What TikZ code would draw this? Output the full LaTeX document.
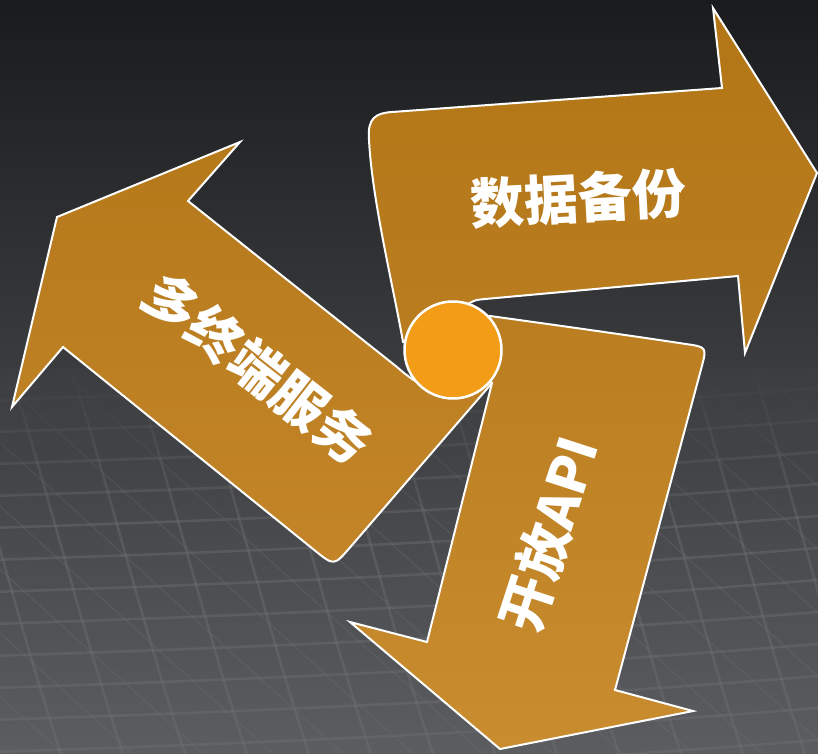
\documentclass[tikz,border=0pt]{standalone}
\usepackage{fontspec}
\usetikzlibrary{fadings}
\newfontfamily\cjk{Noto Sans CJK SC}
\definecolor{bgtop}{HTML}{1A1B1D}
\definecolor{bgmid}{HTML}{3E3F42}
\definecolor{bgbot}{HTML}{5C5D60}
\definecolor{bgA}{HTML}{3D3E41}
\definecolor{bgB}{HTML}{494A4D}
\definecolor{meshc}{HTML}{707174}
\definecolor{hubc}{HTML}{F29C17}
\definecolor{goldA}{HTML}{B27616}
\definecolor{goldB}{HTML}{BA7E21}
\definecolor{goldC}{HTML}{C38528}
\definecolor{goldD}{HTML}{C98C2E}
\tikzfading[name=meshfade, top color=transparent!0, bottom color=transparent!100]
\tikzset{
  arrowshape/.style={draw=white, line width=2pt, line join=miter},
  label/.style={text=white, font=\cjk\bfseries\fontsize{54}{60}\selectfont, inner sep=0pt},
  meshline/.style={draw=meshc, line width=2.6pt, opacity=0.4},
  meshthin/.style={draw=meshc, line width=1.2pt, opacity=0.3},
}
\begin{document}
\begin{tikzpicture}[x=1pt,y=-1pt]
\useasboundingbox (0,0) rectangle (818,753);
% background
\shade[top color=bgtop, middle color=bgmid, bottom color=bgbot] (0,0) rectangle (818,753);
% mesh
\begin{scope}
\clip (0,370) rectangle (818,753);
\foreach \k in {0,...,14}{
  \pgfmathsetmacro{\yy}{400+32*\k}
  \draw[meshline] (-10,\yy) .. controls (300,\yy-10) and (550,\yy-22) .. (830,\yy-45);
}
\foreach \k in {0,...,22}{
  \pgfmathsetmacro{\xx}{-300+62*\k}
  \draw[meshline] (\xx,370) .. controls (\xx+40,500) and (\xx+75,640) .. (\xx+115,760);
}
\foreach \k in {0,...,20}{
  \pgfmathsetmacro{\xx}{-500+70*\k}
  \draw[meshthin] (\xx,370) -- (\xx+430,760);
}
\end{scope}
% fade the top of the mesh into the background
\shade[top color=bgA, bottom color=bgB, path fading=meshfade] (0,368) rectangle (818,520);
% arrow 1 (top, pointing right)
\path[arrowshape, top color=goldA, bottom color=goldB]
  (453,350) -- (403,342)
  .. controls (394,290) and (372,200) .. (369,140)
  .. controls (367,118) and (376,113) .. (392,112)
  -- (722,88) -- (713,8) -- (817,173) -- (745,353) -- (738,276)
  -- (485,299) .. controls (475,300) .. (468,304) -- cycle;
% arrow 2 (left, pointing up-left)
\path[arrowshape, top color=goldA!60!goldB, bottom color=goldC]
  (453,350) -- (415,381) .. controls (405,374) .. (397,367)
  -- (188,201) -- (240,142) -- (57,217) -- (12,407) -- (63,347)
  -- (314.6,550.3) .. controls (334,566) .. (350.3,547.1)
  -- (492,383) -- cycle;
% arrow 3 (bottom, pointing down)
\path[arrowshape, top color=goldB, bottom color=goldD]
  (453,350) -- (490,316)
  .. controls (570,327) and (640,337) .. (685.2,343.9)
  .. controls (707,347) .. (701.3,368.3)
  -- (615,690) -- (693,711) -- (500,749) -- (350,622) -- (427,642)
  -- (492,383) -- cycle;
% hub
\node[circle, draw=white, line width=2.5pt, fill=hubc, minimum size=97pt, inner sep=0pt] (hub) at (453,350) {};
% labels
\node[label, rotate=3] (t1) at (578,198) {数据备份};
\node[label, rotate=-38] (t2) at (258,368) {多终端服务};
\node[label, rotate=72] (t3) at (549,534) {开放API};
\end{tikzpicture}
\end{document}
